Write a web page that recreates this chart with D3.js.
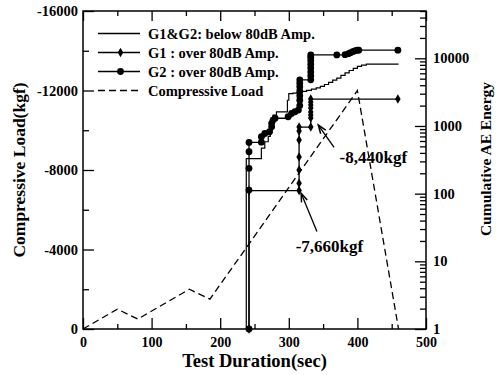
<!DOCTYPE html>
<html>
<head>
<meta charset="utf-8">
<script src="https://cdn.jsdelivr.net/npm/d3@7"></script>
<style>
body{margin:0;background:#fff}
svg text{font-family:"Liberation Serif","Times New Roman",serif;font-weight:bold;fill:#000}
</style>
</head>
<body>
<script>
// compressive load (kgf) vs time (sec)
var loadTime=[0,50,80,155,185,400,460]
var loadValue=[0,-1000,-500,-2000,-1500,-12000,0]

// G1&G2 below 80dB, cumulative AE energy
var belowTime=[238,238,260,265,270,273,277,282,298,300,306,312,320,326,333,340,346,352,358,364,370,376,382,388,394,400,406,413,460]
var belowAE=[1,330,470,585,700,980,1450,1620,2400,3000,3050,3100,3250,3350,3500,3650,3850,4100,4400,4750,5100,5600,6100,6600,7100,7600,7950,8200,8200]

// G1 over 80dB
var g1Time=[242,242,315,315,315,315,315,315,315,332,332,332,332,332,332,332,332,459]
var g1AE=[1,111,111,143,223,347,619,841,963,963,1310,1452,1604,1837,2036,2255,2500,2500]

// G2 over 80dB
var g2Time=[242,242,242,242,242,260,260,265,272,275,275,277,280,299,304,309,314,316,316,316,316,316,316,316,332,332,332,332,332,332,332,332,370,382,387,390,394,397,400,402,459]
var g2AE=[1,113,237,416,572,577,693,777,822,973,1095,1222,1300,1368,1535,1622,1718,2000,2400,2800,3300,3800,4300,4800,4800,5500,6300,7200,8200,9300,10400,11200,11200,11300,11700,12100,12600,13000,13200,13200,13200]

var xTicks=[0,100,200,300,400,500]
var xMinor=[50,150,250,350,450]
var loadTicks=[0,-4000,-8000,-12000,-16000]
var loadMinor=[-2000,-6000,-10000,-14000]
var aeTicks=[1,10,100,1000,10000]

var legendLabels=["G1&G2: below 80dB Amp.","G1 : over 80dB Amp.","G2 : over 80dB Amp.","Compressive Load"]

// annotations: text at [time, load], arrow from [time, load] to [time, AE]
var notes=[
  {label:"-8,440kgf",tx:374,tl:-8340,fromT:366,fromL:-9140,toT:343,toAE:1030},
  {label:"-7,660kgf",tx:310,tl:-3890,fromT:341,fromL:-4900,toT:318,toAE:101}
]

var zip=function(a,b){return a.map(function(d,i){return [d,b[i]]})}

var W=496,H=375
var svg=d3.select("body").append("svg").attr("width",W).attr("height",H)

var x=d3.scaleLinear().domain([0,500]).range([83,426])
var yLoad=d3.scaleLinear().domain([0,-16000]).range([329,11])
var yAE=d3.scaleLog().domain([1,50000]).range([329,11])

var styleAxis=function(g,fs){
  g.select(".domain").remove()
  g.selectAll(".tick line").attr("stroke","#000").attr("stroke-width",1.3)
  g.attr("font-size",fs).attr("font-family",null)
}

// bottom
svg.append("g").attr("transform","translate(0,329)")
   .call(d3.axisBottom(x).tickValues(xMinor).tickSize(-5).tickFormat(""))
   .call(styleAxis,14)
svg.append("g").attr("transform","translate(0,329)")
   .call(d3.axisBottom(x).tickValues(xTicks).tickSize(-11).tickPadding(8).tickFormat(function(d){return String(d)}))
   .call(styleAxis,14)
// top
svg.append("g").attr("transform","translate(0,11)")
   .call(d3.axisTop(x).tickValues(xMinor).tickSize(-5).tickFormat(""))
   .call(styleAxis,14)
svg.append("g").attr("transform","translate(0,11)")
   .call(d3.axisTop(x).tickValues(xTicks).tickSize(-10).tickFormat(""))
   .call(styleAxis,14)
// left
svg.append("g").attr("transform","translate(83,0)")
   .call(d3.axisLeft(yLoad).tickValues(loadMinor).tickSize(-6).tickFormat(""))
   .call(styleAxis,14)
svg.append("g").attr("transform","translate(83,0)")
   .call(d3.axisLeft(yLoad).tickValues(loadTicks).tickSize(-11).tickPadding(5).tickFormat(function(d){return String(d)}))
   .call(styleAxis,14.5)
// right (log)
var aeMinor=yAE.ticks().filter(function(d){return aeTicks.indexOf(d)<0})
svg.append("g").attr("transform","translate(426,0)")
   .call(d3.axisRight(yAE).tickValues(aeMinor).tickSize(-6).tickFormat(""))
   .call(styleAxis,14)
svg.append("g").attr("transform","translate(426,0)")
   .call(d3.axisRight(yAE).tickValues(aeTicks).tickSize(-11).tickPadding(7).tickFormat(function(d){return String(d)}))
   .call(styleAxis,14.5)

// frame
svg.append("rect").attr("x",83).attr("y",11).attr("width",426-83).attr("height",329-11)
   .attr("fill","none").attr("stroke","#000").attr("stroke-width",1.5)

// axis titles
svg.append("text").attr("x",(83+426)/2).attr("y",366.5).attr("text-anchor","middle")
   .attr("font-size",18.5).text("Test Duration(sec)")
svg.append("text").attr("transform","translate(25,170) rotate(-90)").attr("text-anchor","middle")
   .attr("font-size",17.5).text("Compressive Load(kgf)")
svg.append("text").attr("transform","translate(491,159) rotate(-90)").attr("text-anchor","middle")
   .attr("font-size",15.5).text("Cumulative AE Energy")

// data
var plot=svg.append("g").classed("plot",true)
var aeLine=d3.line().x(function(d){return x(d[0])}).y(function(d){return yAE(d[1])}).curve(d3.curveStepAfter)
var loadLine=d3.line().x(function(d){return x(d[0])}).y(function(d){return yLoad(d[1])})

plot.append("path").datum(zip(loadTime,loadValue)).attr("d",loadLine)
    .attr("fill","none").attr("stroke","#000").attr("stroke-width",1.3).attr("stroke-dasharray","7,4")
plot.append("path").datum(zip(belowTime,belowAE)).attr("d",aeLine)
    .attr("fill","none").attr("stroke","#000").attr("stroke-width",1.2)
plot.append("path").datum(zip(g1Time,g1AE)).attr("d",aeLine)
    .attr("fill","none").attr("stroke","#000").attr("stroke-width",1.3)
plot.append("path").datum(zip(g2Time,g2AE)).attr("d",aeLine)
    .attr("fill","none").attr("stroke","#000").attr("stroke-width",1.3)

var diamond=d3.symbol(d3.symbolDiamond,26)
plot.selectAll("path.g1").data(zip(g1Time,g1AE)).enter().append("path").classed("g1",true)
    .attr("transform",function(d){return "translate("+x(d[0])+","+yAE(d[1])+")"})
    .attr("d",diamond).attr("fill","#000")
plot.selectAll("circle.g2").data(zip(g2Time,g2AE)).enter().append("circle").classed("g2",true)
    .attr("cx",function(d){return x(d[0])}).attr("cy",function(d){return yAE(d[1])})
    .attr("r",3.4).attr("fill","#000")

// annotations
notes.forEach(function(n){
  var x1=x(n.fromT),y1=yLoad(n.fromL),x2=x(n.toT),y2=yAE(n.toAE)
  var ang=Math.atan2(y2-y1,x2-x1)
  svg.append("line").attr("x1",x1).attr("y1",y1).attr("x2",x2).attr("y2",y2)
     .attr("stroke","#000").attr("stroke-width",1.3)
  var hl=9,ha=0.35
  svg.append("path")
     .attr("d","M"+(x2-hl*Math.cos(ang-ha))+","+(y2-hl*Math.sin(ang-ha))+"L"+x2+","+y2+"L"+(x2-hl*Math.cos(ang+ha))+","+(y2-hl*Math.sin(ang+ha)))
     .attr("fill","none").attr("stroke","#000").attr("stroke-width",1.5)
  svg.append("text").attr("x",x(n.tx)).attr("y",yLoad(n.tl)).attr("font-size",17).text(n.label)
})

// legend
var legend=svg.append("g").classed("legend",true)
var rowY=[33.5,52.5,71.5,90.5]
legend.selectAll("line").data(legendLabels).enter().append("line")
      .attr("x1",98).attr("x2",140)
      .attr("y1",function(d,i){return rowY[i]}).attr("y2",function(d,i){return rowY[i]})
      .attr("stroke","#000").attr("stroke-width",1.3)
      .attr("stroke-dasharray",function(d,i){return i==3?"7,4":null})
legend.append("path").attr("transform","translate(120.5,"+rowY[1]+")").attr("d",diamond).attr("fill","#000")
legend.append("circle").attr("cx",120.5).attr("cy",rowY[2]).attr("r",3.4).attr("fill","#000")
legend.selectAll("text").data(legendLabels).enter().append("text")
      .attr("x",148).attr("y",function(d,i){return rowY[i]+5})
      .attr("font-size",14.5).text(function(d){return d})
</script>
</body>
</html>
